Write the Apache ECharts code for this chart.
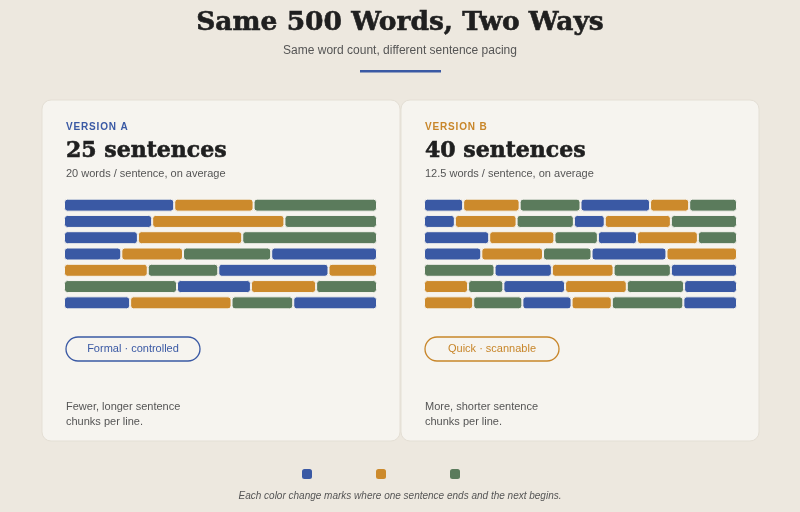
<!DOCTYPE html>
<html>
<head>
<meta charset="utf-8">
<script src="https://cdn.jsdelivr.net/npm/echarts@6/dist/echarts.min.js"></script>
<style>
  html, body { margin: 0; padding: 0; background: #ede8df; }
  #chart { width: 800px; height: 512px; }
</style>
</head>
<body>
<div id="chart"></div>
<script>
// colours cycle sentence by sentence: blue, orange, green
const COLORS = ["#3a59a4", "#cc8a2c", "#5b7b5c"];
const rowNames = ["L1", "L2", "L3", "L4", "L5", "L6", "L7"];

// words per sentence, line by line
const wordsA = [
  [25, 18, 28],
  [20, 30, 21],
  [17, 24, 31],
  [13, 14, 20, 24],
  [19, 16, 25, 11],
  [26, 17, 15, 14],
  [15, 23, 14, 19]
];
const wordsB = [
  [9, 13, 14, 16, 9, 11],
  [7, 14, 13, 7, 15, 15],
  [15, 15, 10, 9, 14, 9],
  [13, 14, 11, 17, 16],
  [16, 13, 14, 13, 15],
  [10, 8, 14, 14, 13, 12],
  [11, 11, 11, 9, 16, 12]
];
const legendNames = ["Sentence 1", "Sentence 2", "Sentence 3"];

const CARD = "#f6f4ef";
const INK = "#1f1f1f";
const SANS = "Arial, 'Liberation Sans', sans-serif";
const SERIF = "'DejaVu Serif', Georgia, serif";

// one stacked series per sentence slot, each line scaled to fill the width
function buildSeries(words, idx, stack) {
  let maxLen = Math.max(...words.map(r => r.length));
  let offsets = [];
  let n = 0;
  words.forEach(r => { offsets.push(n); n += r.length; });
  let out = [];
  for (let k = 0; k < maxLen; k++) {
    out.push({
      type: "bar",
      stack: stack,
      xAxisIndex: idx,
      yAxisIndex: idx,
      barWidth: 13,
      silent: true,
      data: words.map((r, i) => {
        if (r[k] == null) return "-";
        let sum = r.reduce((a, b) => a + b, 0);
        return {
          value: r[k] / sum * 100,
          itemStyle: { color: COLORS[(offsets[i] + k) % 3] }
        };
      }),
      itemStyle: { borderColor: CARD, borderWidth: 1, borderRadius: 3 }
    });
  }
  return out;
}

function axes(n) {
  let x = [], y = [];
  for (let i = 0; i < n; i++) {
    x.push({ gridIndex: i, type: "value", min: 0, max: 100, show: false });
    y.push({ gridIndex: i, type: "category", data: rowNames, inverse: true, show: false });
  }
  return { x, y };
}

function spaced(s) {
  return s.split("").join("\u200a");
}

function card(x, label, color, head, sub, pill, note) {
  return [
    { type: "rect", shape: { x: x, y: 100, width: 358, height: 341, r: 9 },
      style: { fill: CARD, stroke: "#e4dfd5", lineWidth: 1 } },
    { type: "text", x: x + 24, y: 127, style: { text: spaced(label), fill: color,
      font: "bold 10px " + SANS, verticalAlign: "middle" } },
    { type: "text", x: x + 24, y: 151, style: { text: head, fill: INK,
      font: "bold 22px " + SERIF, verticalAlign: "middle",
      stroke: INK, lineWidth: 0.6 } },
    { type: "text", x: x + 24, y: 174, style: { text: sub, fill: "#555",
      font: "11px " + SANS, verticalAlign: "middle" } },
    { type: "rect", shape: { x: x + 24, y: 337, width: 134, height: 24, r: 12 },
      style: { fill: "none", stroke: color, lineWidth: 1.3 } },
    { type: "text", x: x + 91, y: 349, style: { text: pill, fill: color,
      font: "11px " + SANS, align: "center", verticalAlign: "middle" } },
    { type: "text", x: x + 24, y: 414, style: { text: note, fill: "#555",
      font: "11px " + SANS, lineHeight: 15, verticalAlign: "middle" } }
  ];
}

let chart = echarts.init(document.getElementById("chart"));
let ax = axes(2);
let series = buildSeries(wordsA, 0, "A").concat(buildSeries(wordsB, 1, "B"));
// legend-only entries, stacked with A so they take no bar slot
legendNames.forEach((name, i) => {
  series.push({ type: "bar", name: name, stack: "A", xAxisIndex: 0, yAxisIndex: 0,
    data: [], itemStyle: { color: COLORS[i] } });
});

chart.setOption({
  backgroundColor: "#ede8df",
  animation: false,
  title: [
    { text: "Same 500 Words, Two Ways", left: "center", top: 5,
      textStyle: { fontFamily: SERIF, fontWeight: "bold", fontSize: 26.5, color: INK,
        textBorderColor: INK, textBorderWidth: 0.6 } },
    { text: "Same word count, different sentence pacing", left: "center", top: 40,
      textStyle: { fontFamily: SANS, fontWeight: "normal", fontSize: 12, color: "#555" } }
  ],
  graphic: [
    { type: "rect", shape: { x: 360, y: 70, width: 81, height: 2.5 }, style: { fill: "#3a59a4" } },
    ...card(42, "VERSION A", "#3a59a4", "25 sentences",
      "20 words / sentence, on average", "Formal \u00b7 controlled",
      "Fewer, longer sentence\nchunks per line."),
    ...card(401, "VERSION B", "#c8862a", "40 sentences",
      "12.5 words / sentence, on average", "Quick \u00b7 scannable",
      "More, shorter sentence\nchunks per line."),
    { type: "text", x: 400, y: 496, style: { text: "Each color change marks where one sentence ends and the next begins.",
      fill: "#555", font: "italic 10px " + SANS, align: "center", verticalAlign: "middle" } }
  ],
  legend: {
    data: legendNames, top: 464, left: 297, itemWidth: 10, itemHeight: 10,
    itemGap: 64, formatter: () => "", selectedMode: false, icon: "roundRect"
  },
  grid: [
    { left: 64, right: 423, top: 197, height: 114 },
    { left: 424, right: 63, top: 197, height: 114 }
  ],
  xAxis: ax.x,
  yAxis: ax.y,
  series: series
});
</script>
</body>
</html>
